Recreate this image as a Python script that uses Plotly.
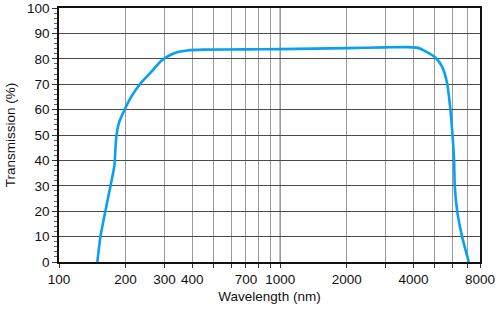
import plotly.graph_objects as go

wavelength_nm = [149, 154, 162, 171, 178, 180, 182, 187, 198, 212, 232, 262, 290, 315, 345,
                 380, 450, 700, 1000, 2000, 3000, 3800, 4200, 4450, 5000, 5390, 5680,
                 5880, 6000, 6110, 6150, 6310, 6640, 7120]
transmission_pct = [0, 10, 20, 30, 38, 45, 50, 55, 60, 65, 70, 75, 79.2, 81.3, 82.7,
                    83.3, 83.6, 83.7, 83.8, 84.2, 84.5, 84.6, 84.3, 83.3, 80.7, 76.9, 70.4,
                    59.9, 50.7, 40, 30, 20, 10, 0]

x_grid_vals = [100, 200, 300, 400, 500, 600, 700, 800, 900, 1000,
               2000, 3000, 4000, 5000, 6000, 7000, 8000]
x_labels = {100: "100", 200: "200", 300: "300", 400: "400", 700: "700",
            1000: "1000", 2000: "2000", 4000: "4000", 8000: "8000"}
x_tick_text = [x_labels.get(v, "") for v in x_grid_vals]
y_tick_vals = list(range(0, 101, 10))

font = dict(family="Liberation Sans, Arial, sans-serif", size=13.5, color="#111")

fig = go.Figure()
fig.add_trace(go.Scatter(
    x=wavelength_nm, y=transmission_pct, mode="lines",
    line=dict(color="#0aa0f0", width=2.6, shape="spline", smoothing=0.6),
    showlegend=False, hoverinfo="skip"))

fig.add_vline(x=1000, line=dict(color="#222", width=1), layer="below")

fig.update_layout(
    width=500, height=321,
    margin=dict(l=59, r=20, t=8, b=59),
    paper_bgcolor="white", plot_bgcolor="white",
    font=font,
    xaxis=dict(
        type="log", range=[2, 3.90309], automargin=False,
        tickvals=x_grid_vals, ticktext=x_tick_text,
        ticks="outside", ticklen=4, tickcolor="#333", tickwidth=1,
        showgrid=True, gridcolor="#9a9a9a", gridwidth=1,
        showline=True, linecolor="#111", linewidth=1.5, mirror=True,
        zeroline=False,
        title=dict(text="Wavelength (nm)", font=font, standoff=6),
        tickfont=font,
    ),
    yaxis=dict(
        range=[0, 100], tickvals=y_tick_vals, automargin=False,
        ticks="outside", ticklen=5, tickcolor="#333", tickwidth=1,
        minor=dict(dtick=2, ticks="outside", ticklen=3, tickcolor="#666", showgrid=False),
        showgrid=True, gridcolor="#4a4a4a", gridwidth=1,
        showline=True, linecolor="#111", linewidth=1.5, mirror=True,
        zeroline=False,
        title=dict(text="Transmission (%)", font=font, standoff=8),
        tickfont=font,
    ),
)

fig.write_html("out.html")
